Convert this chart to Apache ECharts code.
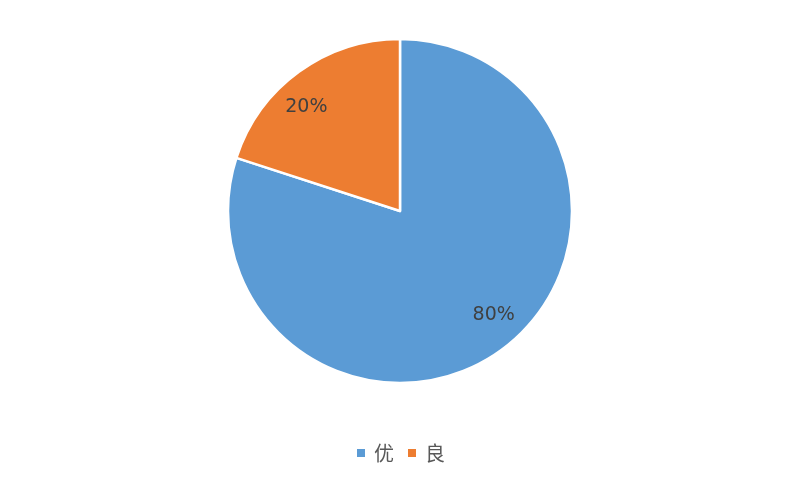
<!DOCTYPE html>
<html><head><meta charset="utf-8">
<script src="https://cdn.jsdelivr.net/npm/echarts@6/dist/echarts.min.js"></script>
<style>html,body{margin:0;padding:0;background:#fff}#c{width:800px;height:481px}</style>
</head><body><div id="c"></div>
<script>
const categories = ['优', '良'];
const values = [80, 20];
const colors = ['#5B9BD5', '#ED7D31'];

const data = categories.map((n, i) => ({ name: n, value: values[i], itemStyle: { color: colors[i] } }));
const chart = echarts.init(document.getElementById('c'));
chart.setOption({
  animation: false,
  legend: {
    data: categories,
    left: 'center',
    top: 438,
    icon: 'rect',
    itemWidth: 10,
    itemHeight: 10,
    itemGap: 12,
    textStyle: { fontSize: 20, color: '#595959', fontFamily: 'Noto Sans CJK SC', padding: [0, 0, 0, 3] }
  },
  series: [
    {
      type: 'pie',
      center: [400, 211],
      radius: [0, 172],
      startAngle: 90,
      clockwise: true,
      label: { show: false },
      labelLine: { show: false },
      itemStyle: { borderColor: '#fff', borderWidth: 2.5 },
      data: data
    },
    {
      type: 'pie',
      center: [400, 211],
      radius: [102, 172],
      startAngle: 96,
      clockwise: true,
      silent: true,
      legendHoverLink: false,
      itemStyle: { color: 'rgba(0,0,0,0)', borderWidth: 0 },
      label: {
        show: true,
        position: 'inside',
        formatter: p => p.value + '%',
        fontSize: 19,
        color: '#404040',
        fontFamily: 'DejaVu Sans'
      },
      labelLine: { show: false },
      data: categories.map((n, i) => ({ name: n, value: values[i] }))
    }
  ]
});
</script></body></html>
